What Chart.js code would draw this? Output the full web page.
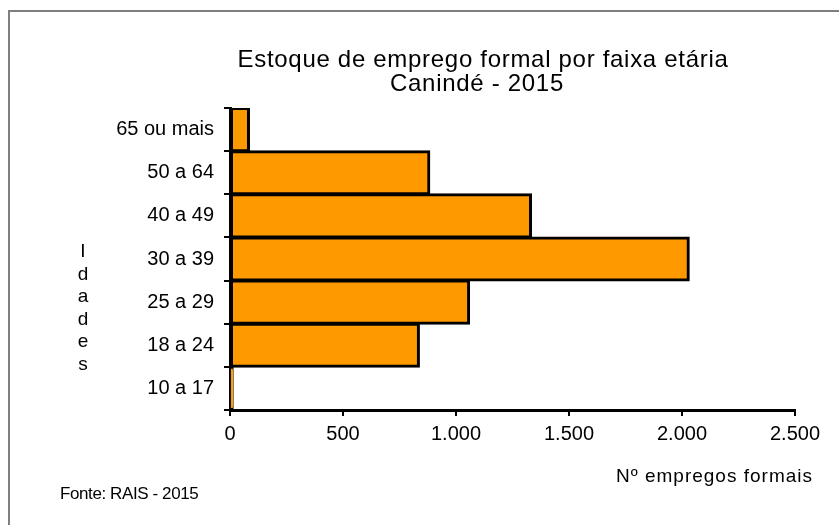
<!DOCTYPE html>
<html>
<head>
<meta charset="utf-8">
<script src="https://cdn.jsdelivr.net/npm/chart.js@4"></script>
<style>
  html, body { margin: 0; padding: 0; background: #ffffff; }
  #wrap { width: 839px; height: 525px; position: relative; }
</style>
</head>
<body>
<div id="wrap"><canvas id="myChart" width="839" height="525"></canvas></div>
<script>
var faixas = ['65 ou mais', '50 a 64', '40 a 49', '30 a 39', '25 a 29', '18 a 24', '10 a 17'];
var empregos = [84, 882, 1332, 2030, 1058, 836, 12];
var xTicks = [0, 500, 1000, 1500, 2000, 2500];
var titulo = ['Estoque de emprego formal por faixa etária', 'Canindé - 2015'];
var eixoY = 'Idades';
var eixoX = 'Nº empregos formais';
var fonte = 'Fonte: RAIS - 2015';

var fam = '"Liberation Sans", Arial, sans-serif';

function milhar(v) {
  return String(v).replace(/\B(?=(\d{3})+(?!\d))/g, '.');
}

// texts + frame drawn around the plot
var textos = {
  id: 'textos',
  afterDraw: function (chart) {
    var ctx = chart.ctx;
    ctx.save();
    ctx.strokeStyle = '#7f7f7f';
    ctx.lineWidth = 2;
    ctx.beginPath();
    ctx.moveTo(9, 600);
    ctx.lineTo(9, 11);
    ctx.lineTo(900, 11);
    ctx.stroke();

    ctx.fillStyle = '#000';
    ctx.textAlign = 'center';
    ctx.textBaseline = 'alphabetic';
    ctx.font = '24px ' + fam;
    ctx.letterSpacing = '0.7px';
    ctx.fillText(titulo[0], 483, 67);
    ctx.fillText(titulo[1], 477, 91);

    ctx.letterSpacing = '0px';
    ctx.font = '19px ' + fam;
    var letras = eixoY.split('');
    for (var i = 0; i < letras.length; i++) {
      ctx.fillText(letras[i], 83, 257 + i * 22.5);
    }

    ctx.textAlign = 'left';
    ctx.letterSpacing = '1px';
    ctx.fillText(eixoX, 616, 482);

    ctx.font = '17px ' + fam;
    ctx.letterSpacing = '-0.4px';
    ctx.fillText(fonte, 60, 499);
    ctx.restore();
  }
};

new Chart('myChart', {
  type: 'bar',
  data: {
    labels: faixas,
    datasets: [{
      data: empregos,
      backgroundColor: '#FF9900',
      borderColor: '#000000',
      borderWidth: 3,
      borderSkipped: false,
      inflateAmount: 1,
      categoryPercentage: 1,
      barPercentage: 1
    }]
  },
  options: {
    indexAxis: 'y',
    responsive: false,
    animation: false,
    layout: { padding: { left: 110, right: 44, top: 108, bottom: 85 } },
    plugins: {
      legend: { display: false },
      tooltip: { enabled: false },
      title: { display: false }
    },
    scales: {
      x: {
        min: 0,
        max: 2500,
        afterBuildTicks: function (s) { s.ticks = xTicks.map(function (v) { return { value: v }; }); },
        afterFit: function (s) { s.height = 30; },
        grid: { drawOnChartArea: false, color: '#000', lineWidth: 2, tickLength: 6 },
        border: { color: '#000', width: 3 },
        ticks: {
          color: '#000',
          font: { family: fam, size: 20 },
          padding: 6,
          maxRotation: 0,
          callback: function (v) { return milhar(v); }
        }
      },
      y: {
        afterFit: function (s) { s.width = 120; },
        grid: { drawOnChartArea: false, color: '#000', lineWidth: 2, tickLength: 6, offset: true },
        border: { color: '#000', width: 3 },
        ticks: {
          color: '#000',
          font: { family: fam, size: 20 },
          padding: 10
        }
      }
    }
  },
  plugins: [textos]
});
</script>
</body>
</html>
